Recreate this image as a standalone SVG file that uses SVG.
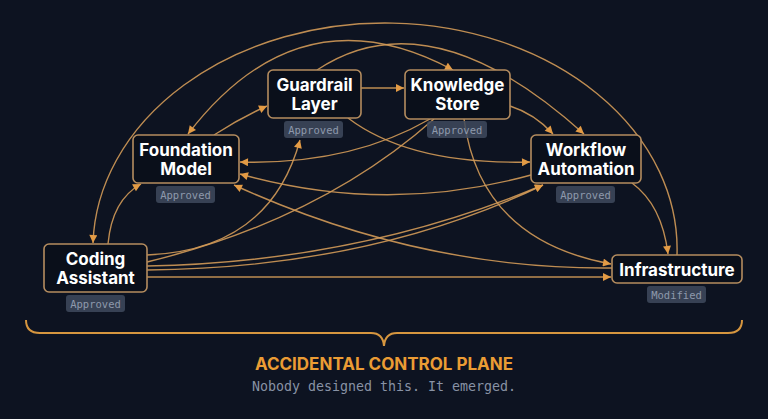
<svg xmlns="http://www.w3.org/2000/svg" width="768" height="419" viewBox="0 0 768 419">
<defs>
<marker id="arr" viewBox="0 0 10 10" refX="10" refY="5" markerWidth="9" markerHeight="8" markerUnits="userSpaceOnUse" orient="auto-start-reverse">
<path d="M0,0 L10,5 L0,10 z" fill="#e39b45"/>
</marker>
<style>
.bg{fill:#0d1321}
.edge{fill:none;stroke:#d29a58;stroke-width:1.4;stroke-opacity:0.9}
.box{fill:#0a0f1a;stroke:#b58d5f;stroke-width:1.6}
.lbl{font-family:Inter,"Liberation Sans",sans-serif;font-weight:700;font-size:17px;fill:#ffffff;text-anchor:middle}
.badge{fill:#3f4a5d;fill-opacity:0.85}
.btxt{font-family:"DejaVu Sans Mono","Liberation Mono",monospace;font-size:10.5px;fill:#8e99ac;text-anchor:middle}
.brace{fill:none;stroke:#d6963f;stroke-width:2}
.title{font-family:Inter,"Liberation Sans",sans-serif;font-weight:700;font-size:17px;fill:#eb9c34;text-anchor:middle}
.sub{font-family:"DejaVu Sans Mono","Liberation Mono",monospace;font-size:13.3px;fill:#8892a5;text-anchor:middle}
</style>
</defs>
<rect class="bg" x="0" y="0" width="768" height="419"/>
<g id="connectors">
<path class="edge" d="M361,88 L404,88" marker-end="url(#arr)"/>
<path class="edge" d="M214,135 Q240,118 267,106" marker-end="url(#arr)"/>
<path class="edge" d="M108,244 Q112,200 141,184" marker-end="url(#arr)"/>
<path class="edge" d="M677,255 A292,226 0 0 0 93,243" marker-end="url(#arr)"/>
<path class="edge" d="M453,70 Q300,-12 188,134" marker-start="url(#arr)" marker-end="url(#arr)"/>
<path class="edge" d="M317,70 Q430,-5 584,134" marker-end="url(#arr)"/>
<path class="edge" d="M510,106 Q535,114 553,134" marker-end="url(#arr)"/>
<path class="edge" d="M632,183 Q662,205 668,254" marker-end="url(#arr)"/>
<path class="edge" d="M348,118 Q410,165 530,162" marker-end="url(#arr)"/>
<path class="edge" d="M430,119 Q350,165 240,162" marker-end="url(#arr)"/>
<path class="edge" d="M531,175 Q386,215 240,174" marker-end="url(#arr)"/>
<path class="edge" d="M612,268 Q420,270 234,185" marker-end="url(#arr)"/>
<path class="edge" d="M464,119 Q480,240 611,264" marker-end="url(#arr)"/>
<path class="edge" d="M147,277 L611,277" marker-end="url(#arr)"/>
<path class="edge" d="M147,255 Q270,250 300,140" marker-end="url(#arr)"/>
<path class="edge" d="M147,262 Q320,220 434,119"/>
<path class="edge" d="M147,266 Q360,262 543,185" marker-end="url(#arr)"/>
<path class="edge" d="M147,270 Q370,268 543,185" marker-end="url(#arr)"/>
</g>
<g id="coding-assistant">
<rect class="box" x="44" y="244" width="103" height="48" rx="5"/>
<text class="lbl" x="95.5" y="265">Coding</text>
<text class="lbl" x="95.5" y="284">Assistant</text>
<rect class="badge" x="66" y="295" width="59" height="17" rx="3"/>
<text class="btxt" x="95.5" y="307.5">Approved</text>
</g>
<g id="foundation-model">
<rect class="box" x="133" y="135" width="106" height="48" rx="5"/>
<text class="lbl" x="186" y="156">Foundation</text>
<text class="lbl" x="186" y="175">Model</text>
<rect class="badge" x="156" y="186" width="59" height="17" rx="3"/>
<text class="btxt" x="185.5" y="198.5">Approved</text>
</g>
<g id="guardrail-layer">
<rect class="box" x="268" y="70" width="93" height="48" rx="5"/>
<text class="lbl" x="314.5" y="91">Guardrail</text>
<text class="lbl" x="314.5" y="110">Layer</text>
<rect class="badge" x="284" y="121" width="59" height="17" rx="3"/>
<text class="btxt" x="313.5" y="133.5">Approved</text>
</g>
<g id="knowledge-store">
<rect class="box" x="405" y="70" width="105" height="49" rx="5"/>
<text class="lbl" x="457.5" y="91">Knowledge</text>
<text class="lbl" x="457.5" y="110">Store</text>
<rect class="badge" x="427" y="121" width="60" height="17" rx="3"/>
<text class="btxt" x="457" y="133.5">Approved</text>
</g>
<g id="workflow-automation">
<rect class="box" x="531" y="135" width="110" height="48" rx="5"/>
<text class="lbl" x="586" y="156">Workflow</text>
<text class="lbl" x="586" y="175">Automation</text>
<rect class="badge" x="556" y="186" width="59" height="17" rx="3"/>
<text class="btxt" x="585.5" y="198.5">Approved</text>
</g>
<g id="infrastructure">
<rect class="box" x="612" y="255" width="130" height="28" rx="5"/>
<text class="lbl" x="677" y="275.5">Infrastructure</text>
<rect class="badge" x="647" y="286" width="59" height="17" rx="3"/>
<text class="btxt" x="676.5" y="298.5">Modified</text>
</g>
<path class="brace" d="M26,320 Q26,333 40,333 L371,333 Q383,333 384,346 Q385,333 397,333 L728,333 Q742,333 742,320"/>
<text class="title" x="384" y="370">ACCIDENTAL CONTROL PLANE</text>
<text class="sub" x="384" y="391">Nobody designed this. It emerged.</text>
</svg>
